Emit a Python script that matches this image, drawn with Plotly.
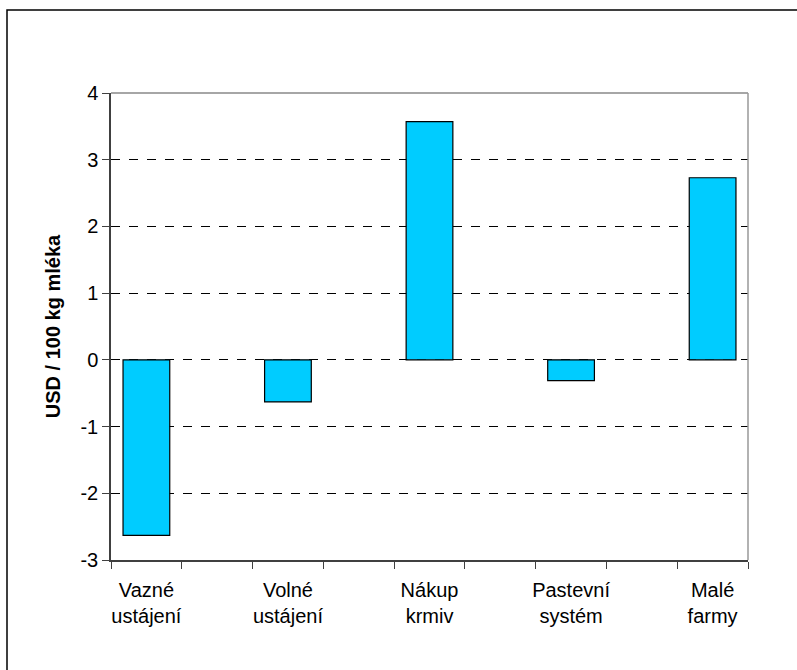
import plotly.graph_objects as go

categories = ["Vazné<br>ustájení", "Volné<br>ustájení", "Nákup<br>krmiv", "Pastevní<br>systém", "Malé<br>farmy"]
values = [-2.63, -0.63, 3.57, -0.31, 2.73]
y_ticks = [-3, -2, -1, 0, 1, 2, 3, 4]
y_tick_labels = ["-3", "-2", "-1", "0", "1", "2", "3", "4"]

# axis slots: every category is followed by an empty slot (as in the original Excel chart)
slots = []
for i, c in enumerate(categories):
    slots.append(c)
    if i < len(categories) - 1:
        slots.append(" " * (i + 1))

fig = go.Figure()
fig.add_trace(go.Bar(
    x=categories, y=values,
    marker=dict(color="#00CCFF", line=dict(color="#000000", width=1.2)),
    width=0.66,
    hoverinfo="skip",
))

fig.update_layout(
    width=797, height=670,
    margin=dict(l=111, r=49, t=93, b=110),
    paper_bgcolor="white", plot_bgcolor="white",
    font=dict(family="Liberation Sans, Arial, sans-serif", color="black", size=20),
    showlegend=False,
    xaxis=dict(
        type="category",
        categoryorder="array", categoryarray=slots,
        range=[-0.5, len(slots) - 0.5],
        tickson="boundaries",
        tickangle=0,
        automargin=False,
        ticks="outside", ticklen=7, tickcolor="#404040",
        showline=True, linecolor="#404040", linewidth=1.5,
        showgrid=False,
        tickfont=dict(size=20),
        ticklabelstandoff=11,
    ),
    yaxis=dict(
        range=[-3, 4],
        tickvals=y_ticks,
        ticktext=y_tick_labels,
        automargin=False,
        ticks="outside", ticklen=7, tickcolor="#404040",
        showline=True, linecolor="#404040", linewidth=1.5,
        showgrid=True, gridcolor="black", gridwidth=1, griddash="dash",
        zeroline=False,
        tickfont=dict(size=20),
        ticklabelstandoff=0,
        title=dict(text="<b>USD / 100 kg mléka</b>", font=dict(size=20), standoff=14),
    ),
    shapes=[
        dict(type="line", xref="paper", yref="paper", x0=0, x1=1, y0=1, y1=1,
             line=dict(color="#888888", width=1.5)),
        dict(type="line", xref="paper", yref="paper", x0=1, x1=1, y0=0, y1=1,
             line=dict(color="#999999", width=1.5)),
        dict(type="rect", xref="paper", yref="paper",
             x0=-104/637, x1=1.2, y0=-0.3, y1=1 + 83/467,
             line=dict(color="black", width=1.5), fillcolor="rgba(0,0,0,0)", layer="below"),
    ],
)

fig.write_html("out.html", config={"displayModeBar": False},
               post_script="document.body.style.margin='0';")
